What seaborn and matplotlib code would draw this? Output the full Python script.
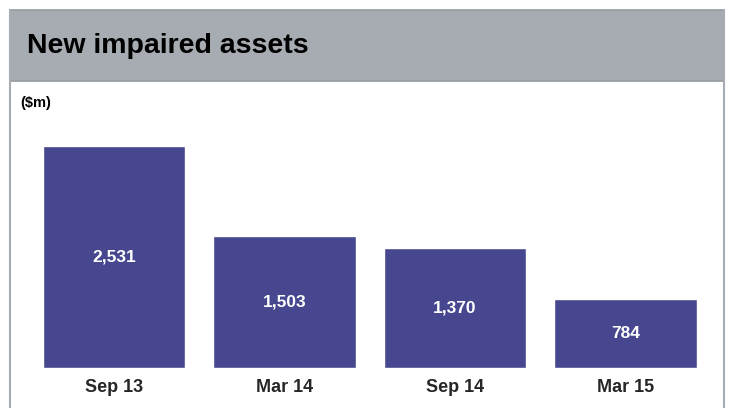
import pandas as pd
import matplotlib.pyplot as plt
import seaborn as sns
from matplotlib.patches import Rectangle
from matplotlib.lines import Line2D

# Chart data
periods = ['Sep 13', 'Mar 14', 'Sep 14', 'Mar 15']
impaired = [2531, 1503, 1370, 784]
value_labels = ['2,531', '1,503', '1,370', '784']

df = pd.DataFrame({'Period': periods, 'Impaired': impaired})

sns.set_style('white')
plt.rcParams['font.family'] = ['Liberation Sans', 'DejaVu Sans']

W, H = 738, 408
fig = plt.figure(figsize=(W / 100, H / 100), dpi=100)

# Grey header band and frame
fig.patches.append(Rectangle((10 / W, 1 - 81 / H), 714 / W, 71 / H,
                             transform=fig.transFigure, facecolor='#A6ACB2',
                             edgecolor='#959BA1', linewidth=1.2, zorder=0))
for x in (10 / W, 724 / W):
    fig.lines.append(Line2D([x, x], [0, 1 - 10 / H], transform=fig.transFigure,
                            color='#A6ACB2', linewidth=1.5))
fig.text(27 / W, 1 - 53 / H, 'New impaired assets', fontsize=20.5, fontweight='bold',
         va='baseline', ha='left', color='black')
fig.text(20 / W, 1 - 103 / H, '($m)', fontsize=10.5, fontweight='bold',
         va='center', ha='left', color='black')

ax = fig.add_axes([28.75 / W, 40 / H, 682 / W, 239 / H])
sns.barplot(data=df, x='Period', y='Impaired', color='#46478F', saturation=1,
            width=0.833, ax=ax)

for i, (v, lab) in enumerate(zip(impaired, value_labels)):
    ax.text(i, v / 2, lab, ha='center', va='center', color='white',
            fontsize=12.5, fontweight='bold')

ax.set_xlim(-0.5, 3.5)
ax.set_ylim(0, 2726)
ax.set_xlabel('')
ax.set_ylabel('')
ax.set_yticks([])
ax.tick_params(axis='x', length=0, pad=8, labelsize=13)
for lab in ax.get_xticklabels():
    lab.set_fontweight('bold')
for s in ax.spines.values():
    s.set_visible(False)
ax.patch.set_alpha(0)

fig.savefig('out.png', dpi=100)
